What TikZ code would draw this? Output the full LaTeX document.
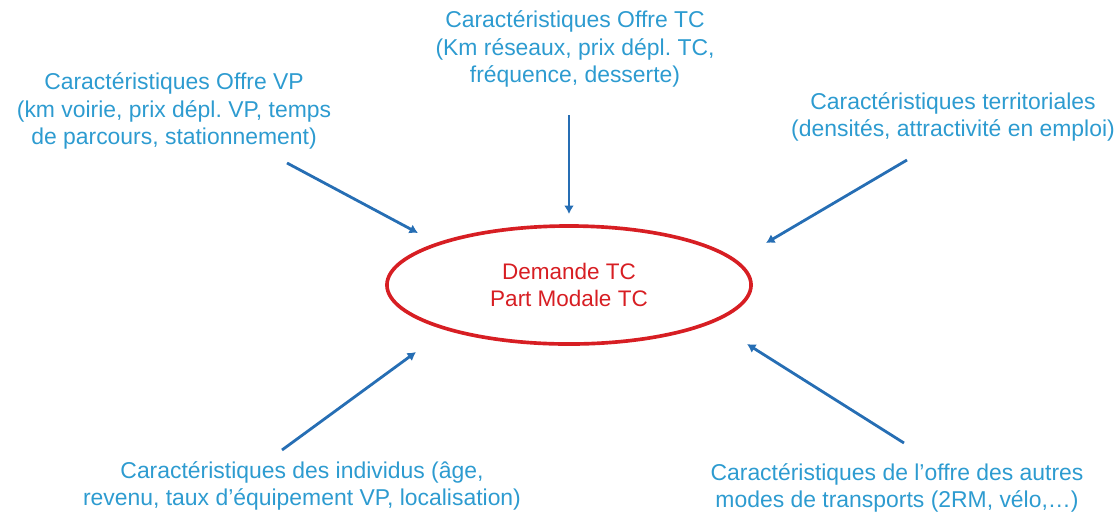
\documentclass[tikz,border=0pt]{standalone}
\usepackage{fontspec}
\setmainfont{Liberation Sans}
\usetikzlibrary{arrows.meta,shapes.geometric}
\definecolor{txtblue}{RGB}{45,155,208}
\definecolor{arrblue}{RGB}{38,110,180}
\definecolor{demred}{RGB}{215,30,35}
\frenchspacing
\begin{document}
\begin{tikzpicture}[x=.025cm,y=-.025cm,
  lbl/.style={text=txtblue,align=center,font=\fontsize{16.3}{19.6}\selectfont},
  fleche/.style={draw=arrblue,line width=2pt,-{Latex[length=6pt,width=7pt]}}]
\useasboundingbox (0,0) rectangle (1116,516);
% ellipse centrale
\node[ellipse,draw=demred,line width=2.6pt,minimum width=9.1cm,minimum height=2.95cm,
      text=demred,align=center,font=\fontsize{16}{19}\selectfont] (dem) at (569,285)
      {Demande TC\\Part Modale TC};
% facteurs
\node[lbl] (offreTC) at (575,49) {Caract\'eristiques Offre TC\\(Km r\'eseaux, prix d\'epl. TC,\\fr\'equence, desserte)};
\node[lbl] (offreVP) at (174,111) {Caract\'eristiques Offre VP\\(km voirie, prix d\'epl. VP, temps\\de parcours, stationnement)};
\node[lbl] (territ) at (953,117) {Caract\'eristiques territoriales\\(densit\'es, attractivit\'e en emploi)};
\node[lbl] (indiv) at (302,486) {Caract\'eristiques des individus (\^age,\\revenu, taux d’\'equipement VP, localisation)};
\node[lbl] (autres) at (897,488) {Caract\'eristiques de l’offre des autres\\modes de transports (2RM, v\'elo,…)};
% fleches
\coordinate (tcA) at (569,115);  \coordinate (tcB) at (569,214);
\coordinate (vpA) at (287,163);  \coordinate (vpB) at (418,233);
\coordinate (teA) at (907,160);  \coordinate (teB) at (766,243);
\coordinate (inA) at (282,450);  \coordinate (inB) at (416,352);
\coordinate (auA) at (904,443);  \coordinate (auB) at (747,344);
\draw[fleche] (tcA) -- (tcB);
\draw[fleche] (vpA) -- (vpB);
\draw[fleche] (teA) -- (teB);
\draw[fleche] (inA) -- (inB);
\draw[fleche] (auA) -- (auB);
\end{tikzpicture}
\end{document}
